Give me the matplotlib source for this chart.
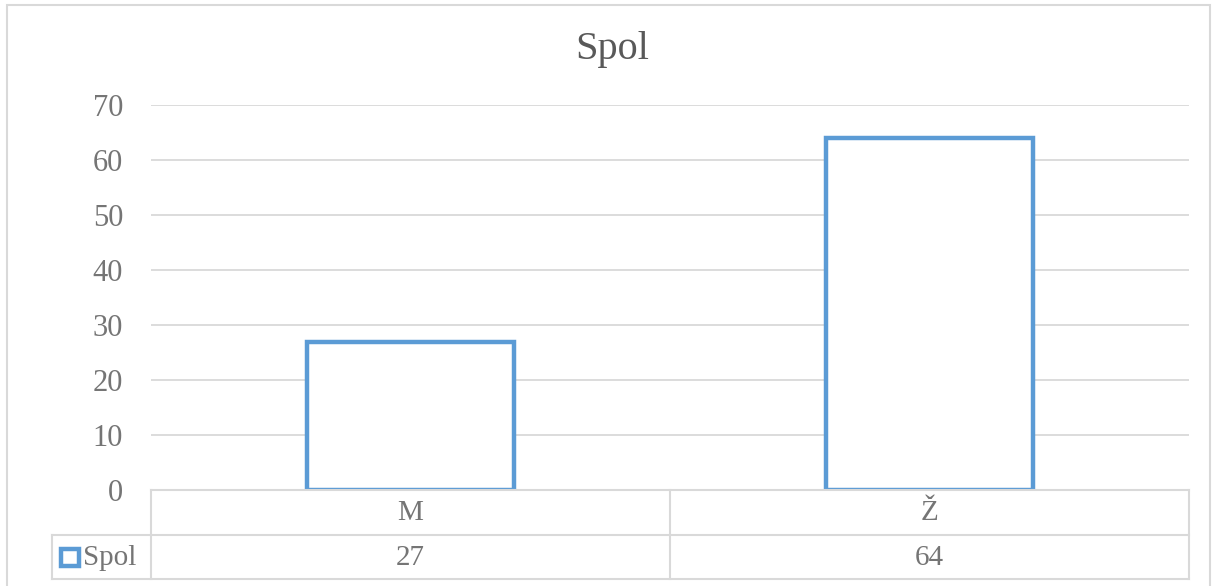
import matplotlib.pyplot as plt
from matplotlib.patches import Rectangle
from matplotlib.lines import Line2D

categories = ["M", "Ž"]
values = [27, 64]
series_name = "Spol"
yticks = [0, 10, 20, 30, 40, 50, 60, 70]

W, H = 1217, 586
blue = "#5B9BD5"
grid = "#D9D9D9"
text_c = "#757575"

plt.rcParams['font.family'] = ['Liberation Serif', 'DejaVu Serif']

fig = plt.figure(figsize=(W / 100, H / 100), dpi=100)

def fx(px):
    return px / W

def fy(py):
    return 1 - py / H

# plot area
left, right, top, bottom = 151, 1189, 105, 490
ax = fig.add_axes([fx(left), fy(bottom), fx(right) - fx(left), fy(top) - fy(bottom)])
x = range(len(categories))
ax.bar(x, values, width=0.4, facecolor="white", edgecolor=blue, linewidth=3.2, zorder=3)
ax.set_xlim(-0.5, len(categories) - 0.5)
ax.set_ylim(0, 70)
ax.set_yticks(yticks)
ax.yaxis.grid(True, color=grid, linewidth=1.3)
ax.set_axisbelow(True)
for s in ax.spines.values():
    s.set_visible(False)
ax.set_xticks([])
ax.tick_params(axis="y", length=0, pad=20, labelsize=22, labelcolor=text_c)

fig.suptitle("Spol", x=0.503, y=fy(50), va="center", fontsize=29, color="#595959")

# data table under the plot
row1, row2, row3 = 490, 535, 579
key_left = 52

def hline(y, x0, x1):
    fig.add_artist(Line2D([fx(x0), fx(x1)], [fy(y), fy(y)], color=grid, linewidth=1.5))

def vline(xp, y0, y1):
    fig.add_artist(Line2D([fx(xp), fx(xp)], [fy(y0), fy(y1)], color=grid, linewidth=1.5))

hline(row1, left, right)
hline(row2, key_left, right)
hline(row3, key_left, right)
vline(key_left, row2, row3)
col_w = (right - left) / len(categories)
for i in range(len(categories) + 1):
    vline(left + i * col_w, row1, row3)

for i, (cat, val) in enumerate(zip(categories, values)):
    cx = left + (i + 0.5) * col_w
    fig.text(fx(cx), fy((row1 + row2) / 2 + 1), cat, ha="center", va="center",
             fontsize=21, color=text_c)
    fig.text(fx(cx), fy((row2 + row3) / 2 + 1), str(val), ha="center", va="center",
             fontsize=21, color=text_c)

# legend key in the table
fig.add_artist(Rectangle((fx(61), fy(566)), fx(18), fy(549) - fy(566), facecolor="white",
                         edgecolor=blue, linewidth=3.2, transform=fig.transFigure))
fig.text(fx(83), fy((row2 + row3) / 2 + 1), series_name, ha="left", va="center",
         fontsize=21, color=text_c)

# chart frame
fig.add_artist(Rectangle((fx(7), fy(600)), fx(1210) - fx(7), fy(5) - fy(600), fill=False,
                         edgecolor=grid, linewidth=1.5, transform=fig.transFigure))

fig.savefig("out.png", dpi=100)
